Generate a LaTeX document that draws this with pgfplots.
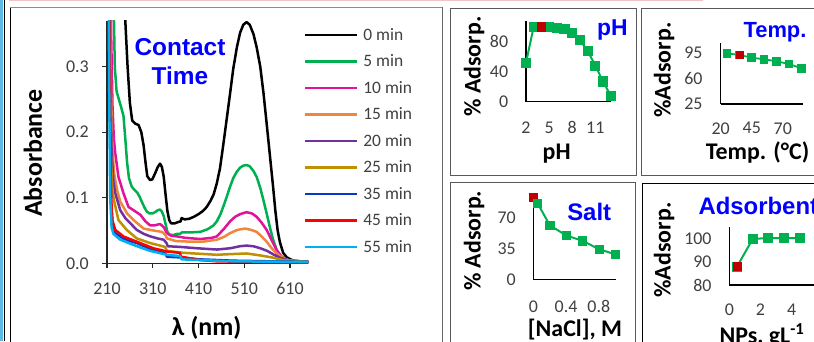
\documentclass[border=0pt]{standalone}
\usepackage{pgfplots}
\pgfplotsset{compat=1.18}
\usepackage{fontspec}
\setmainfont{Carlito}
\newfontfamily\arialf{Liberation Sans}
\newcommand\fs[1]{\fontsize{#1}{#1}\selectfont}
\definecolor{cGreen}{HTML}{00B050}
\definecolor{cMag}{HTML}{E0139A}
\definecolor{cOrange}{HTML}{F0853D}
\definecolor{cPurple}{HTML}{7030A0}
\definecolor{cGold}{HTML}{BF9000}
\definecolor{cBlue}{HTML}{0838C8}
\definecolor{cRed}{HTML}{FF0000}
\definecolor{cCyan}{HTML}{00B0F0}
\definecolor{mkRed}{HTML}{C00000}
\definecolor{ttl}{HTML}{0000FF}
\definecolor{tickc}{HTML}{404040}
\definecolor{strip}{HTML}{5DBBE3}
\definecolor{pinkl}{HTML}{F3C3C3}
\pgfplotsset{
  small/.style={scale only axis, axis lines=left, clip=false,
    axis line style={-, black, line width=1.5bp},
    major tick length=0pt, tick style={draw=none},
    ticklabel style={font=\fs{18}, text=tickc, inner sep=0pt},
    xticklabel style={anchor=center},
    yticklabel style={anchor=east}},
  gline/.style={cGreen, line width=2bp},
}
\begin{document}
\begin{tikzpicture}[x=1bp,y=1bp]
\path[use as bounding box] (0,0) rectangle (814,341);
\clip (0,0) rectangle (814,341);
\fill[white] (0,0) rectangle (814,341);
\fill[strip] (0,0) rectangle (3.3,341);
\draw[black, line width=1.3bp] (4.2,0) -- (4.2,341);
\draw[pinkl, line width=1.6bp] (9,340.3) -- (703,340.3);
% main panel frame
\draw[black!45, line width=1.3bp] (9.8,333.6) -- (442.7,333.6);
\draw[black, line width=1.3bp] (10.6,-5) -- (10.6,333);
\draw[black!60, line width=1bp] (442.7,333.6) -- (442.7,-5);
% small panel frames
\draw[black!65, line width=1bp] (450,166) rectangle (636.5,332.7);
\draw[black!65, line width=1bp] (641.7,166) rectangle (830,332.7);
\draw[black!65, line width=1bp] (450,-10) rectangle (635.5,158.3);
\draw[black, line width=1.3bp] (642.7,-10) rectangle (830,157.3);

% ===== main spectra =====
\begin{axis}[at={(107bp,77.7bp)}, anchor=south west,
  scale only axis, width=201.3bp, height=242.5bp,
  xmin=210, xmax=650, ymin=0, ymax=0.37,
  axis lines=left, axis line style={-, black!85, line width=1.3bp},
  tick align=outside, major tick length=5bp, tick style={black!85, line width=1.1bp},
  xtick={210,310,410,510,610}, xticklabels={210,310,410,510,610},
  ytick={0,0.1,0.2,0.3}, yticklabels={0.0,0.1,0.2,0.3},
  ticklabel style={font=\fs{18}, text=tickc, inner sep=0pt},
  xticklabel style={anchor=center, yshift=-20bp},
  yticklabel style={anchor=east, xshift=-13bp},
  legend image code/.code={\draw[#1, line width=2.4bp] (0bp,5.4bp) -- (52bp,5.4bp);},
  legend cell align=left,
  legend style={at={(0.9786,0.974)}, anchor=north west, draw=none, fill=none,
    inner sep=0pt, outer sep=0pt, row sep=0pt, column sep=5bp,
    nodes={inner sep=0pt, outer sep=0pt, text height=13.25bp, text depth=13.25bp,
      font=\fs{17.5}, text=tickc}},
  every axis plot/.append style={line width=2.5bp, line join=round},
]
\addplot[black] table {
228 0.9
238 0.6
245 0.45
250 0.37
255 0.3
260 0.245
265 0.218
272 0.213
279 0.211
285 0.200
290 0.180
294 0.155
298 0.133
304 0.127
309 0.128
315 0.137
321 0.147
326 0.152
330 0.147
334 0.132
338 0.105
342 0.080
346 0.066
350 0.061
358 0.061
366 0.063
371 0.064
373 0.069
380 0.067
390 0.068
400 0.071
410 0.075
420 0.080
428 0.086
436 0.095
443 0.105
450 0.122
457 0.145
464 0.180
472 0.222
479 0.259
486 0.297
494 0.330
501 0.352
508 0.364
515 0.368
522 0.364
530 0.350
537 0.330
545 0.300
552 0.260
559 0.213
566 0.165
573 0.117
578 0.080
583 0.050
588 0.032
595 0.016
603 0.009
617 0.004
650 0.002
};
\addlegendentry{0 min}
\addplot[cGreen] table {
221 0.7
224 0.42
227 0.30
231 0.262
236 0.25
241 0.238
246 0.225
250 0.19
254 0.153
258 0.13
264 0.117
270 0.112
276 0.108
281 0.102
286 0.094
292 0.085
297 0.079
303 0.076
309 0.076
315 0.078
321 0.081
326 0.082
330 0.079
334 0.072
338 0.060
342 0.048
346 0.044
355 0.043
363 0.045
370 0.045
373 0.047
390 0.047
414 0.048
430 0.052
443 0.058
450 0.064
458 0.075
465 0.088
472 0.102
479 0.117
486 0.130
494 0.140
501 0.146
508 0.149
515 0.150
522 0.148
530 0.141
537 0.132
545 0.115
552 0.096
559 0.076
566 0.055
573 0.036
581 0.020
588 0.012
595 0.008
610 0.004
650 0.002
};
\addlegendentry{5 min}
\addplot[cMag] table {
216 0.6
219 0.35
222 0.24
225 0.19
228 0.168
235 0.132
246 0.107
257 0.086
268 0.081
283 0.074
294 0.064
304 0.058
315 0.058
326 0.060
334 0.055
341 0.046
350 0.042
363 0.041
380 0.039
414 0.037
440 0.039
450 0.041
465 0.052
479 0.064
490 0.071
501 0.075
515 0.078
527 0.076
537 0.071
548 0.062
559 0.051
570 0.035
581 0.020
592 0.010
603 0.005
630 0.002
650 0.002
};
\addlegendentry{10 min}
\addplot[cOrange] table {
215 0.6
218 0.3
221 0.19
225 0.14
232 0.112
239 0.094
254 0.076
268 0.066
290 0.053
312 0.050
330 0.048
337 0.044
341 0.038
360 0.034
392 0.033
420 0.033
450 0.036
465 0.040
479 0.046
495 0.051
512 0.053
525 0.051
537 0.048
548 0.041
559 0.033
570 0.023
581 0.015
595 0.008
610 0.004
650 0.002
};
\addlegendentry{15 min}
\addplot[cPurple] table {
214 0.6
217 0.3
220 0.17
224 0.125
228 0.107
239 0.081
250 0.069
257 0.064
275 0.051
290 0.045
305 0.041
320 0.038
334 0.036
340 0.031
343 0.026
370 0.025
406 0.023
450 0.021
480 0.023
500 0.026
515 0.027
530 0.026
545 0.023
560 0.019
575 0.013
590 0.008
610 0.004
650 0.002
};
\addlegendentry{20 min}
\addplot[cGold] table {
213 0.6
216 0.3
219 0.15
222 0.11
225 0.097
235 0.066
253 0.051
275 0.038
304 0.031
337 0.025
341 0.019
377 0.016
450 0.013
480 0.014
515 0.015
545 0.012
570 0.009
595 0.005
650 0.002
};
\addlegendentry{25 min}
\addplot[cBlue] table {
213 0.6
216 0.25
219 0.09
222 0.06
228 0.046
246 0.038
260 0.034
275 0.031
311 0.020
337 0.016
341 0.010
370 0.009
413 0.006
486 0.004
650 0.002
};
\addlegendentry{35 min}
\addplot[cRed] table {
213 0.6
216 0.25
219 0.1
222 0.065
228 0.051
246 0.041
260 0.037
275 0.033
311 0.023
341 0.018
369 0.016
372 0.010
413 0.005
450 0.003
650 0.001
};
\addlegendentry{45 min}
\addplot[cCyan] table {
212 0.6
215 0.25
217 0.1
220 0.055
224 0.045
239 0.036
268 0.028
304 0.019
341 0.013
370 0.011
373 0.006
413 0.005
486 0.003
650 0.002
};
\addlegendentry{55 min}
\end{axis}

% ===== pH =====
\begin{axis}[small, at={(526bp,239.3bp)}, anchor=south west, width=84.7bp, height=81bp,
  xmin=2, xmax=13, ymin=0, ymax=108,
  xtick={2,5,8,11}, xticklabels={2,5,8,11}, ytick={0,40,80}, yticklabels={0,40,80},
  xticklabel style={yshift=-26bp}, yticklabel style={xshift=-17.7bp}]
\addplot[gline, mark=square*, mark size=4.1bp, mark options={solid}] coordinates {
(2,52) (3,100) (4,100) (5,99.5) (6,98.5) (7,97) (8,92) (9,82) (10,68) (11,48) (12,27) (13,8)};
\addplot[only marks, mkRed, mark=square*, mark size=4.1bp] coordinates {(4,100)};
\end{axis}

% ===== Temp =====
\begin{axis}[small, at={(720.7bp,237bp)}, anchor=south west, width=82.6bp, height=60.7bp,
  xmin=20, xmax=86.5, ymin=25, ymax=108,
  xtick={20,45,70}, xticklabels={20,45,70}, ytick={25,60,95}, yticklabels={25,60,95},
  xticklabel style={yshift=-24.3bp}, yticklabel style={xshift=-18bp}]
\addplot[gline, line width=1.8bp, mark=square*, mark size=3.4bp, mark options={solid}] coordinates {
(25,94.3) (35,92) (45,88.3) (55,86.1) (65,83.4) (75,79.7) (85,73.8)};
\addplot[only marks, mkRed, mark=square*, mark size=3.4bp] coordinates {(35,92)};
\end{axis}

% ===== Salt =====
\begin{axis}[small, at={(533.3bp,61.7bp)}, anchor=south west, width=82.7bp, height=84.3bp,
  xmin=0, xmax=1.01, ymin=0, ymax=96,
  xtick={0,0.4,0.8}, xticklabels={0,0.4,0.8}, ytick={0,35,70}, yticklabels={0,35,70},
  xticklabel style={yshift=-27.4bp}, yticklabel style={xshift=-17.3bp}]
\addplot[gline] coordinates {
(0,93.2) (0.05,87) (0.2,61.7) (0.4,50) (0.6,43.9) (0.8,34.4) (1.0,28.4)};
\addplot[only marks, mkRed, mark=square*, mark size=4.1bp] coordinates {(0,93.2)};
\addplot[only marks, cGreen, mark=square*, mark size=4.1bp] coordinates {
(0.05,87) (0.2,61.7) (0.4,50) (0.6,43.9) (0.8,34.4) (1.0,28.4)};
\end{axis}

% ===== Adsorbent =====
\begin{axis}[small, at={(729.3bp,56bp)}, anchor=south west, width=93.6bp, height=57.7bp,
  xmin=0, xmax=6, ymin=80, ymax=105,
  xtick={0,2,4}, xticklabels={0,2,4}, ytick={80,90,100}, yticklabels={80,90,100},
  xticklabel style={yshift=-25bp}, yticklabel style={xshift=-17.6bp}]
\addplot[gline, mark=square*, mark size=4bp, mark options={solid}] coordinates {
(0.5,88) (1.5,100) (2.5,100.3) (3.5,100.3) (4.5,100.3)};
\addplot[only marks, mkRed, mark=square*, mark size=4bp] coordinates {(0.5,88)};
\end{axis}

% ===== texts =====
\node[rotate=90, font=\bfseries\fs{26}] at (33,188) {Absorbance};
\node[font=\bfseries\fs{26}] at (206.7,13.5) {λ (nm)};
\node[font=\arialf\bfseries\fs{24.5}, text=ttl] at (180,294.3) {Contact};
\node[font=\arialf\bfseries\fs{24.5}, text=ttl] at (180,265) {Time};

\node[rotate=90, font=\bfseries\fs{24}] at (474,274.3) {\% Adsorp.};
\node[anchor=base, font=\arialf\bfseries\fs{23}, text=ttl] at (612.3,306) {pH};
\node[anchor=base, font=\bfseries\fs{24}] at (556.7,181.7) {pH};

\node[rotate=90, font=\bfseries\fs{24}] at (664,271) {\%Adsorp.};
\node[anchor=base, font=\arialf\bfseries\fs{22}, text=ttl] at (775,303.7) {Temp.};
\node[anchor=base, font=\bfseries\fs{24}] at (757.5,182) {Temp. (°C)};

\node[rotate=90, font=\bfseries\fs{24}] at (474,100.2) {\% Adsorp.};
\node[anchor=base, font=\arialf\bfseries\fs{24}, text=ttl] at (589.2,121) {Salt};
\node[anchor=base, font=\bfseries\fs{24}] at (575,5) {[NaCl], M};

\node[rotate=90, font=\bfseries\fs{24}] at (664,91) {\%Adsorp.};
\node[anchor=base west, font=\arialf\bfseries\fs{24}, text=ttl] at (695,126.7) {Adsorbent};
\node[anchor=base, font=\bfseries\fs{24}] at (762,-2.8) {NPs, gL\textsuperscript{-1}};
\end{tikzpicture}
\end{document}
